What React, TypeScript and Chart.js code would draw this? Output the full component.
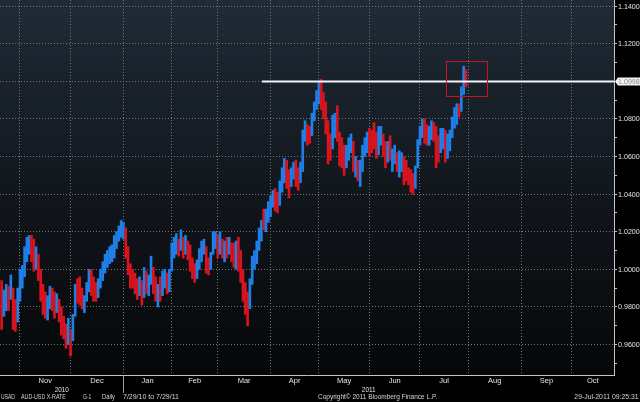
import { useEffect, useRef } from "react"
import { Chart, registerables } from "chart.js"

Chart.register(...registerables)

// one bar per weekday, starting here
const firstDay = "2010-10-20"

const lows = [
  0.968, 0.975, 0.978, 0.978, 0.984, 0.968, 0.967, 0.972, 0.983, 0.990,
  0.996, 1.004, 1.008, 1.004, 0.999, 1.000, 0.994, 0.983, 0.976, 0.974,
  0.973, 0.979, 0.978, 0.974, 0.977, 0.972, 0.965, 0.963, 0.958, 0.960,
  0.954, 0.962, 0.975, 0.982, 0.981, 0.979, 0.977, 0.983, 0.988, 0.986,
  0.983, 0.983, 0.985, 0.990, 0.994, 0.998, 1.001, 1.003, 1.004, 1.006,
  1.011, 1.015, 1.017, 1.016, 1.006, 0.997, 0.990, 0.990, 0.987, 0.984,
  0.986, 0.981, 0.985, 0.987, 0.986, 0.992, 0.987, 0.983, 0.980, 0.983,
  0.986, 0.990, 0.987, 0.988, 0.999, 1.006, 1.008, 1.007, 1.010, 1.006,
  1.008, 1.005, 0.999, 0.995, 0.993, 0.995, 1.000, 1.004, 1.008, 0.998,
  0.997, 1.000, 1.008, 1.011, 1.006, 1.008, 1.006, 1.004, 1.006, 1.008,
  1.004, 1.001, 1.000, 0.999, 0.993, 0.983, 0.976, 0.970, 0.979, 0.992,
  1.000, 1.003, 1.010, 1.015, 1.021, 1.020, 1.025, 1.028, 1.033, 1.031,
  1.030, 1.034, 1.041, 1.046, 1.043, 1.038, 1.044, 1.048, 1.044, 1.042,
  1.046, 1.052, 1.068, 1.066, 1.067, 1.071, 1.079, 1.085, 1.088, 1.085,
  1.080, 1.072, 1.056, 1.058, 1.064, 1.070, 1.068, 1.055, 1.054, 1.050,
  1.054, 1.058, 1.062, 1.052, 1.049, 1.047, 1.044, 1.052, 1.060, 1.062,
  1.060, 1.062, 1.064, 1.059, 1.061, 1.066, 1.060, 1.054, 1.057, 1.058,
  1.052, 1.056, 1.052, 1.049, 1.052, 1.045, 1.047, 1.045, 1.041, 1.040,
  1.043, 1.054, 1.066, 1.070, 1.067, 1.066, 1.066, 1.069, 1.068, 1.054,
  1.057, 1.062, 1.064, 1.057, 1.059, 1.063, 1.070, 1.075, 1.077, 1.081,
  1.084, 1.093, 1.097,
]

const highs = [
  0.994, 0.989, 0.992, 0.991, 0.997, 0.990, 0.984, 0.990, 1.000, 1.002,
  1.012, 1.017, 1.018, 1.018, 1.016, 1.012, 1.008, 1.000, 0.992, 0.988,
  0.986, 0.991, 0.990, 0.988, 0.987, 0.984, 0.980, 0.975, 0.971, 0.974,
  0.968, 0.976, 0.992, 0.995, 0.996, 0.990, 0.986, 0.993, 1.000, 1.000,
  0.996, 0.993, 0.995, 1.000, 1.004, 1.008, 1.010, 1.012, 1.013, 1.018,
  1.020, 1.023, 1.026, 1.025, 1.022, 1.012, 1.003, 1.000, 0.998, 0.995,
  0.996, 0.994, 1.001, 0.999, 0.997, 1.007, 1.001, 0.996, 0.992, 0.996,
  0.999, 1.000, 0.998, 1.000, 1.014, 1.017, 1.019, 1.016, 1.021, 1.017,
  1.018, 1.015, 1.013, 1.006, 1.003, 1.005, 1.011, 1.015, 1.016, 1.012,
  1.006, 1.009, 1.020, 1.020, 1.018, 1.020, 1.016, 1.015, 1.017, 1.017,
  1.014, 1.014, 1.015, 1.017, 1.010, 1.000, 0.993, 0.988, 0.995, 1.007,
  1.010, 1.015, 1.022, 1.026, 1.032, 1.032, 1.036, 1.039, 1.042, 1.043,
  1.041, 1.047, 1.054, 1.059, 1.058, 1.053, 1.054, 1.057, 1.058, 1.054,
  1.057, 1.074, 1.079, 1.077, 1.076, 1.083, 1.089, 1.095, 1.100, 1.101,
  1.094, 1.089, 1.079, 1.072, 1.082, 1.083, 1.087, 1.073, 1.070, 1.066,
  1.066, 1.070, 1.072, 1.068, 1.060, 1.058, 1.058, 1.066, 1.070, 1.073,
  1.075, 1.074, 1.078, 1.073, 1.076, 1.076, 1.072, 1.068, 1.068, 1.071,
  1.064, 1.066, 1.062, 1.063, 1.062, 1.060, 1.058, 1.054, 1.053, 1.051,
  1.055, 1.069, 1.076, 1.080, 1.080, 1.077, 1.076, 1.079, 1.078, 1.076,
  1.071, 1.075, 1.075, 1.074, 1.072, 1.074, 1.081, 1.086, 1.088, 1.088,
  1.097, 1.108, 1.106,
]

// u = day closed up (blue), d = closed down (red)
const moves = [
  "duududduuu", "uuuddudddd", "uudduddddu", "duuddduuud", "dduuuuuuuu",
  "uuuudddddd", "ududuuddud", "uuduuuudud", "udddduuuud", "duuudududu",
  "dduddddduu", "uuuuduuuud", "duuudduudd", "uuudduuuud", "dddduudddd",
  "uuududuuuu", "dddduuddud", "uuduuddddd", "uuuudduudd", "duuduuuuud",
  "uud",
].join("")

const monthStarts = [
  "2010-11-01", "2010-12-01", "2011-01-01", "2011-02-01", "2011-03-01", "2011-04-01",
  "2011-05-01", "2011-06-01", "2011-07-01", "2011-08-01", "2011-09-01", "2011-10-01",
]
const monthNames = ["Nov", "Dec", "Jan", "Feb", "Mar", "Apr", "May", "Jun", "Jul", "Aug", "Sep", "Oct"]
const years = ["2010", "2011"]
const yTicks = [
  0.95, 0.96, 0.97, 0.98, 0.99, 1.0, 1.01, 1.02, 1.03, 1.04,
  1.05, 1.06, 1.07, 1.08, 1.09, 1.1, 1.11, 1.12, 1.13, 1.14,
]

const lastPrice = 1.0998
const levelFrom = 113.3
const boxFrom = 193.3
const boxTo = 211.1
const boxLow = 1.0922
const boxHigh = 1.1108

const xMin = -0.7
const xMax = 266.4
const yMin = 0.9438
const yMax = 1.1432

const BLUE = "#1f7fe9"
const RED = "#d8141e"
const GRID = "#6f757b"
const AXIS = "#c4c4c4"
const TEXT = "#e4e4e4"
const FONT = "'Liberation Sans', Arial, sans-serif"

function tradingIndex(date: string) {
  const d = new Date(firstDay + "T00:00:00Z")
  const end = new Date(date + "T00:00:00Z")
  let n = 0
  while (d < end) {
    const wd = d.getUTCDay()
    if (wd !== 0 && wd !== 6) n++
    d.setUTCDate(d.getUTCDate() + 1)
  }
  return n
}

const isMajor = (v: number) => Math.round(v * 100) % 2 === 0

// the terminal font is narrower than anything installed, so squeeze horizontally
function narrowText(c: CanvasRenderingContext2D, text: string, x: number, y: number, sx: number) {
  c.save()
  c.translate(x, y)
  c.scale(sx, 1)
  c.fillText(text, 0, 0)
  c.restore()
}

export default function App() {
  const canvasRef = useRef<HTMLCanvasElement>(null)
  const chartRef = useRef<Chart | null>(null)

  useEffect(() => {
    if (!canvasRef.current) return
    if (chartRef.current) chartRef.current.destroy()
    const ctx = canvasRef.current.getContext("2d")
    if (!ctx) return

    const bounds = monthStarts.map(tradingIndex)
    const yearBreak = tradingIndex("2011-01-01")
    const mids = bounds.map((b, i) => (b + (i + 1 < bounds.length ? bounds[i + 1] : xMax)) / 2)
    const yearMids = [(xMin + yearBreak) / 2, (yearBreak + xMax) / 2]
    const monthTicks = [...bounds, ...mids].sort((a, b) => a - b)

    const bars = lows.map((lo, i) => ({ x: i, y: [lo, highs[i]] }))
    const colors = moves.split("").map((m) => (m === "u" ? BLUE : RED))

    const decorations = {
      id: "decorations",
      beforeDraw(chart: any) {
        const { ctx: c, chartArea: a } = chart
        c.save()
        c.fillStyle = "#000"
        c.fillRect(0, 0, chart.width, chart.height)
        const g = c.createLinearGradient(0, a.top, 0, a.bottom)
        g.addColorStop(0, "#1f2b37")
        g.addColorStop(0.5, "#12171d")
        g.addColorStop(1, "#060708")
        c.fillStyle = g
        c.fillRect(a.left, a.top, a.right - a.left, a.bottom - a.top)
        c.restore()
      },
      afterDraw(chart: any) {
        const { ctx: c, chartArea: a, scales } = chart
        const x = scales.x
        const y = scales.y
        c.save()
        // year divider under the axis
        const sx = Math.round(x.getPixelForValue(yearBreak)) + 0.5
        c.strokeStyle = "#9c9c9c"
        c.lineWidth = 1
        c.beginPath()
        c.moveTo(sx, a.bottom)
        c.lineTo(sx, a.bottom + 18)
        c.stroke()

        // year labels
        c.font = `7.5px ${FONT}`
        c.fillStyle = TEXT
        c.textAlign = "center"
        c.textBaseline = "middle"
        yearMids.forEach((v, i) => narrowText(c, years[i], x.getPixelForValue(v), a.bottom + 14.5, 0.85))

        // highlight box
        const bx1 = x.getPixelForValue(boxFrom)
        const bx2 = x.getPixelForValue(boxTo)
        const by1 = y.getPixelForValue(boxHigh)
        const by2 = y.getPixelForValue(boxLow)
        c.strokeStyle = "#c8141e"
        c.strokeRect(Math.round(bx1) + 0.5, Math.round(by1) + 0.5, Math.round(bx2 - bx1), Math.round(by2 - by1))

        // price labels on the right axis
        c.textAlign = "left"
        for (const v of yTicks) {
          if (isMajor(v)) narrowText(c, v.toFixed(4), a.right + 4, y.getPixelForValue(v) + 0.5, 0.95)
        }

        // last price tag
        const ly = y.getPixelForValue(lastPrice)
        c.fillStyle = "#f2f2f2"
        c.beginPath()
        c.moveTo(a.right + 1, ly)
        c.lineTo(a.right + 4, ly - 4)
        c.lineTo(chart.width, ly - 4)
        c.lineTo(chart.width, ly + 4)
        c.lineTo(a.right + 4, ly + 4)
        c.closePath()
        c.fill()
        c.fillStyle = "#7d8994"
        narrowText(c, lastPrice.toFixed(4), a.right + 4, ly + 0.5, 0.95)
        c.restore()
      },
    }

    chartRef.current = new Chart(ctx, {
      type: "bar",
      data: {
        datasets: [
          {
            type: "line",
            order: 0,
            data: [
              { x: levelFrom, y: lastPrice },
              { x: xMax, y: lastPrice },
            ],
            borderColor: "#f4f4f4",
            borderWidth: 2,
            pointRadius: 0,
          },
          {
            type: "bar",
            order: 1,
            data: bars,
            backgroundColor: colors,
            borderWidth: 0,
            barThickness: 2,
          },
        ],
      },
      options: {
        responsive: false,
        animation: false,
        layout: { padding: { top: 0, left: 0, right: 0, bottom: 17 } },
        plugins: {
          legend: { display: false },
          tooltip: { enabled: false },
        },
        scales: {
          x: {
            type: "linear",
            min: xMin,
            max: xMax,
            offset: false,
            afterBuildTicks: (s: any) => {
              s.ticks = monthTicks.map((v) => ({ value: v }))
            },
            afterFit: (s: any) => {
              s.height = 10
              s.paddingLeft = 0
              s.paddingRight = 0
            },
            grid: {
              offset: false,
              drawTicks: false,
              color: (c: any) => (c.tick && bounds.includes(c.tick.value) ? GRID : "transparent"),
            },
            border: { color: AXIS, width: 1, dash: [1, 2] },
            ticks: {
              autoSkip: false,
              maxRotation: 0,
              padding: 1,
              color: TEXT,
              font: { family: FONT, size: 7.5 },
              callback: (v: any) => {
                const i = mids.indexOf(v)
                return i >= 0 ? monthNames[i] : ""
              },
            },
          },
          y: {
            type: "linear",
            position: "right",
            min: yMin,
            max: yMax,
            afterBuildTicks: (s: any) => {
              s.ticks = yTicks.map((v) => ({ value: v }))
            },
            afterFit: (s: any) => {
              s.width = 26
              s.paddingTop = 0
              s.paddingBottom = 0
            },
            grid: {
              color: (c: any) => (c.tick && isMajor(c.tick.value) ? GRID : "transparent"),
              tickColor: AXIS,
              tickLength: 3,
            },
            border: { color: AXIS, width: 1, dash: [1, 2] },
            ticks: { display: false },
          },
        },
      },
      plugins: [decorations],
    } as any)

    return () => {
      if (chartRef.current) {
        chartRef.current.destroy()
        chartRef.current = null
      }
    }
  }, [])

  const foot = (left: number | null, sx: number): React.CSSProperties => ({
    position: "absolute",
    top: 393,
    ...(left === null ? { right: 1 } : { left }),
    fontFamily: FONT,
    fontSize: 7,
    lineHeight: "8px",
    color: "#d6d6d6",
    whiteSpace: "pre",
    transform: `scaleX(${sx})`,
    transformOrigin: left === null ? "right" : "left",
  })

  return (
    <div style={{ position: "fixed", left: 0, top: 0, width: 640, height: 402, background: "#000", overflow: "hidden" }}>
      <canvas ref={canvasRef} width={640} height={402} style={{ position: "absolute", left: 0, top: 0 }} />
      <div style={foot(1, 0.72)}>USAD</div>
      <div style={foot(21, 0.76)}>AUD-USD X-RATE</div>
      <div style={foot(83, 0.72)}>G-1</div>
      <div style={foot(102, 0.83)}>Daily</div>
      <div style={foot(123, 1)}>7/29/10 to 7/29/11</div>
      <div style={foot(318, 0.93)}>Copyright© 2011 Bloomberg Finance L.P.</div>
      <div style={foot(null, 0.98)}>29-Jul-2011 09:25:31</div>
    </div>
  )
}
